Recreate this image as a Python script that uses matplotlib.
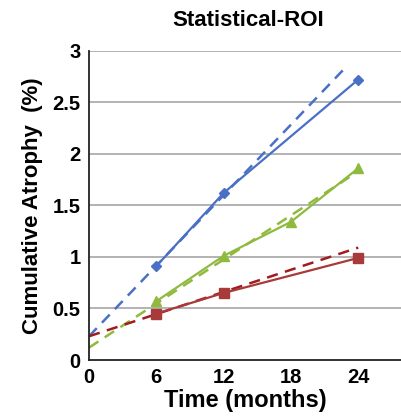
import matplotlib
matplotlib.use("Agg")
import matplotlib.pyplot as plt

plt.rcParams['font.family'] = ['Liberation Sans', 'DejaVu Sans']

# observed cumulative atrophy (%) at each visit
months_blue = [6, 12, 24]
atrophy_blue = [0.91, 1.62, 2.72]
months_green = [6, 12, 18, 24]
atrophy_green = [0.57, 1.01, 1.34, 1.86]
months_red = [6, 12, 24]
atrophy_red = [0.45, 0.65, 0.99]

# linear fits (dashed), start and end values
fit_t_blue = [0, 22.8]
fit_blue = [0.23, 2.83]
fit_t_green = [0, 24]
fit_green = [0.12, 1.83]
fit_t_red = [0, 24]
fit_red = [0.23, 1.09]

x_ticks = [0, 6, 12, 18, 24]
y_ticks = [0, 0.5, 1, 1.5, 2, 2.5, 3]
y_tick_labels = ["0", "0.5", "1", "1.5", "2", "2.5", "3"]

BLUE = "#4a70c6"
GREEN = "#8fba3e"
RED = "#a93a3a"
RED_DASH = "#a11c20"

fig = plt.figure(figsize=(4.02, 4.19), dpi=100)
ax = fig.add_axes([89 / 402, 59 / 419, 1 - 89 / 402, (360 - 50.7) / 419])

for y in y_ticks[1:]:
    ax.axhline(y, color="#a6a6a6", lw=1.2, zorder=0)

dash = (0, (4.5, 3))
ax.plot(fit_t_blue, fit_blue, color=BLUE, lw=1.8, linestyle=dash, zorder=2)
ax.plot(fit_t_green, fit_green, color=GREEN, lw=1.8, linestyle=dash, zorder=2)
ax.plot(fit_t_red, fit_red, color=RED_DASH, lw=1.8, linestyle=dash, zorder=2)

ax.plot(months_blue, atrophy_blue, color=BLUE, lw=1.6, marker="D", ms=5, zorder=3)
ax.plot(months_green, atrophy_green, color=GREEN, lw=1.6, marker="^", ms=7.5, zorder=3)
ax.plot(months_red, atrophy_red, color=RED, lw=1.6, marker="s", ms=7, zorder=3)

ax.set_xlim(0, 27.9)
ax.set_ylim(0, 3)
ax.set_xticks(x_ticks)
ax.set_yticks(y_ticks)
ax.set_yticklabels(y_tick_labels)
ax.tick_params(length=0, labelsize=14.5, pad=6)
for lbl in ax.get_xticklabels() + ax.get_yticklabels():
    lbl.set_fontweight("bold")

for side in ["top", "right"]:
    ax.spines[side].set_visible(False)
for side in ["left", "bottom"]:
    ax.spines[side].set_color("#222222")
    ax.spines[side].set_linewidth(1.3)

ax.set_xlabel("Time (months)", fontsize=17, fontweight="bold", labelpad=1)
ax.set_ylabel("Cumulative Atrophy  (%)", fontsize=16, fontweight="bold", labelpad=7)
fig.text(0.617, 0.952, "Statistical-ROI", ha="center", va="center",
         fontsize=16, fontweight="bold")

plt.savefig("out.png", dpi=100)
